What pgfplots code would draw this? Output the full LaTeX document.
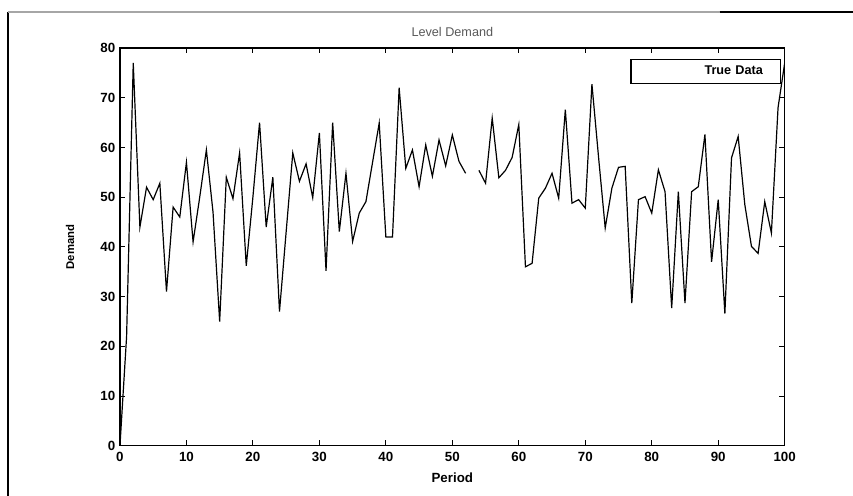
\documentclass[border=0pt]{standalone}
\usepackage{fontspec}
\setmainfont{Liberation Sans}
\usepackage{pgfplots}
\pgfplotsset{compat=1.18}
\pgfplotstableread{
p v
0 0
1 22
2 77
3 44
4 52
5 49.5
6 52.8
7 31
8 48
9 46
10 57
11 41
12 50
13 59.5
14 47
15 25
16 54
17 49.7
18 58.9
19 36.2
20 50
21 65
22 44
23 54
24 27
25 43
26 58.9
27 53.2
28 56.7
29 49.9
30 62.9
31 35.2
32 65
33 43.1
34 54.8
35 41.1
36 46.8
37 49.1
38 57
39 64.9
40 42
41 42
42 72
43 55.8
44 59.5
45 52.1
46 60.5
47 54.2
48 61.5
49 56.3
50 62.5
51 57.2
52 54.8
53 nan
54 55.4
55 52.8
56 65.9
57 53.9
58 55.4
59 58
60 64.6
61 36
62 36.7
63 49.8
64 51.8
65 54.8
66 49.8
67 67.6
68 48.8
69 49.5
70 47.8
71 72.7
72 58
73 43.8
74 51.8
75 56
76 56.2
77 28.7
78 49.5
79 50.1
80 46.8
81 55.5
82 51.1
83 27.7
84 51.1
85 28.7
86 51.1
87 52.1
88 62.6
89 37
90 49.5
91 26.6
92 57.9
93 62.2
94 48.5
95 40.1
96 38.7
97 49.1
98 42.8
99 68
100 77
}\demand
\begin{document}
\begin{tikzpicture}
\useasboundingbox (0,0) rectangle (640pt,372pt);
\draw[line width=1.3pt] (6pt,0) -- (6pt,363pt);
\draw[line width=0.8pt, gray!70] (6pt,363pt) -- (540pt,363pt);
\draw[line width=1.4pt] (540pt,363pt) -- (640pt,363pt);
\begin{axis}[
  at={(90pt,37.5pt)}, anchor=south west,
  scale only axis, width=498.75pt, height=298.5pt,
  xmin=0, xmax=100, ymin=0, ymax=80,
  xtick={0,10,...,100}, ytick={0,10,...,80},
  tick align=inside, major tick length=4pt,
  axis line style={line width=1pt},
  tick style={line width=0.8pt, black},
  unbounded coords=jump,
  /pgf/number format/assume math mode=true,
  ticklabel style={font=\bfseries\fontsize{10}{12}\selectfont},
  xticklabel style={yshift=-1pt},
  title={Level Demand},
  title style={at={(axis description cs:0.5,1.038)}, anchor=center, yshift=-5pt, font=\fontsize{9.5}{11}\selectfont, text=black!65},
  xlabel={Period},
  xlabel style={at={(axis description cs:0.5,-0.08)}, anchor=center, font=\bfseries\fontsize{10}{12}\selectfont},
  ylabel={Demand},
  ylabel style={at={(axis description cs:-0.075,0.5)}, anchor=center, rotate=0, font=\bfseries\fontsize{8.5}{10}\selectfont},
  legend plot pos=right,
  legend image code/.code={\path (0pt,0pt) (12pt,0pt);},
  legend style={at={(rel axis cs:1,1)}, anchor=north east, xshift=-3pt, yshift=-8.25pt,
    inner sep=0pt, line width=0.9pt, draw=black,
    nodes={inner xsep=0pt, inner ysep=0pt, text width=99pt, align=right, minimum height=18pt, font=\bfseries\fontsize{9.5}{11}\selectfont}},
]
\addplot[black, line width=0.9pt] table[x=p, y=v] {\demand};
\addlegendentry{True Data}
\end{axis}
\end{tikzpicture}
\end{document}
